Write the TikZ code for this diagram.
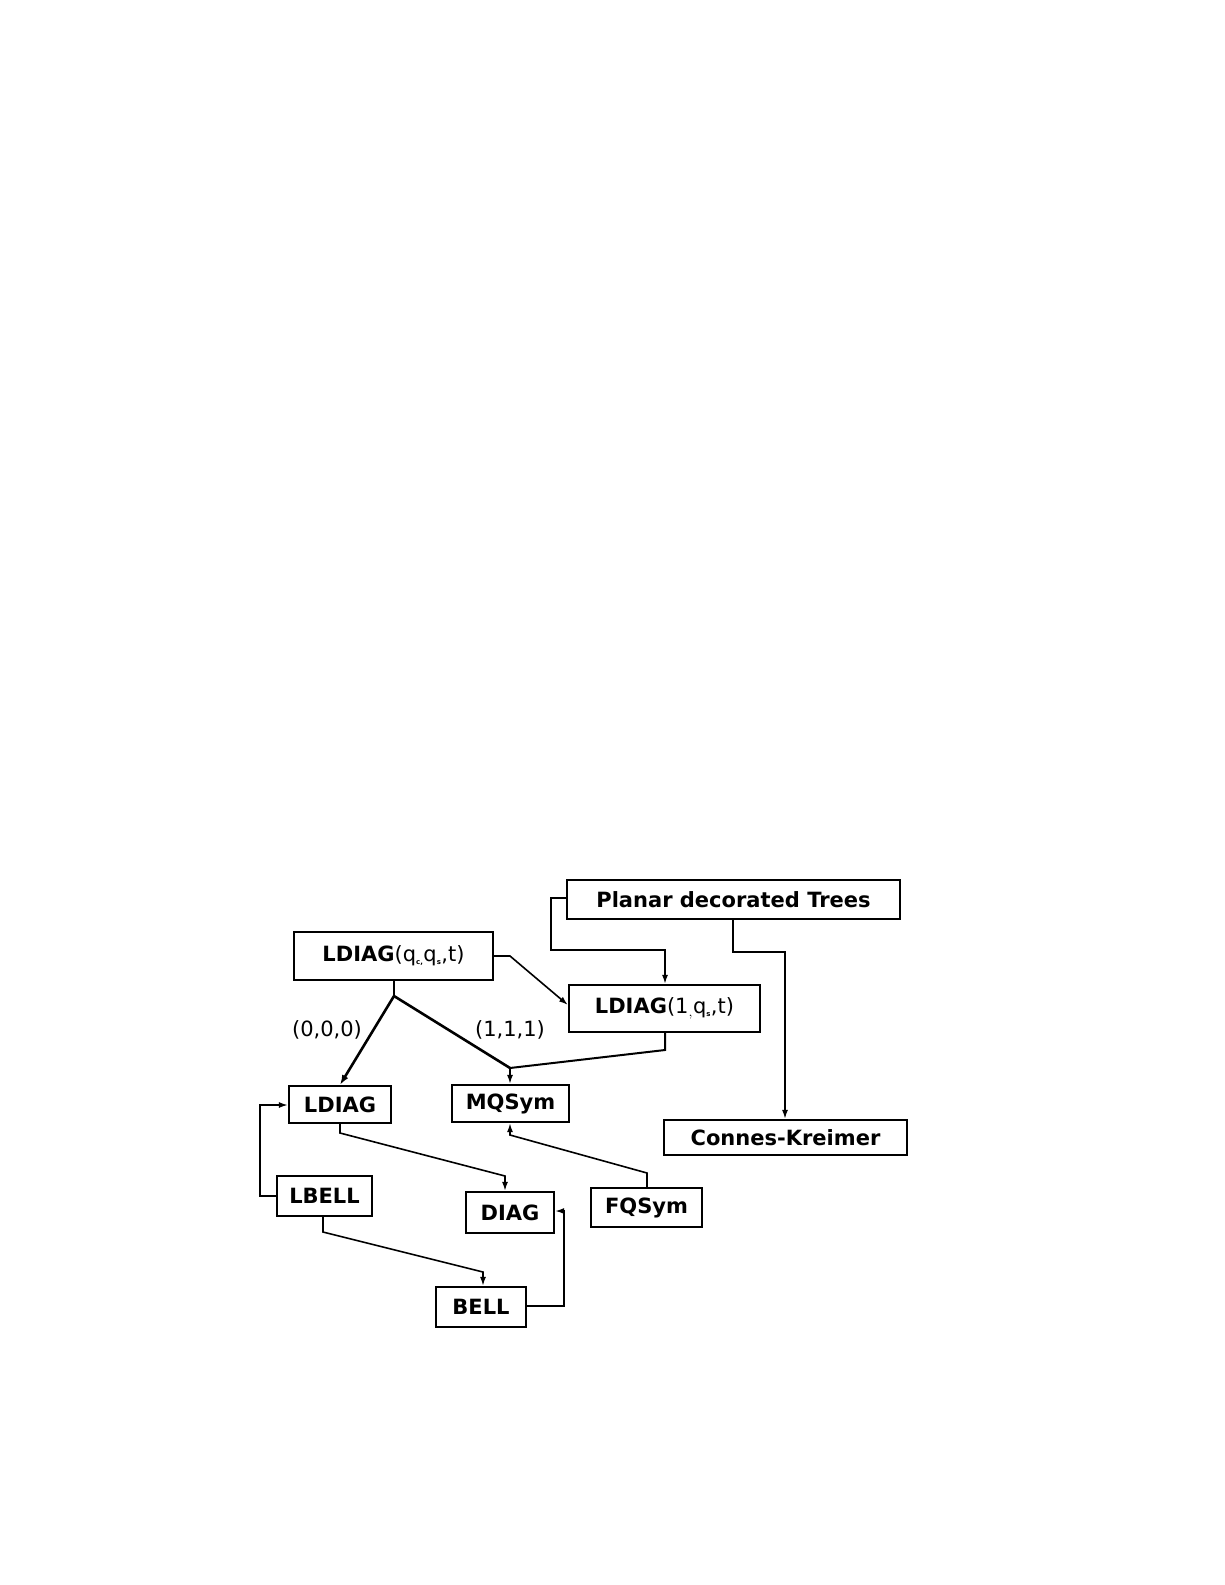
\documentclass[tikz,border=0pt]{standalone}
\usepackage{fontspec}
\setmainfont{DejaVu Sans}
\usetikzlibrary{arrows.meta}
\begin{document}
\begin{tikzpicture}[x=1pt,y=-1pt,
  bx/.style={draw,line width=2.2pt,inner sep=0pt,font=\fontsize{21}{24}\selectfont},
  ln/.style={line width=1.6pt,-{Latex[length=9pt,width=6pt]}},
  tk/.style={line width=2.6pt},
  lab/.style={font=\fontsize{21}{24}\selectfont}]
\fill[white] (0,0) rectangle (1225,1585);
\useasboundingbox (0,0) rectangle (1225,1585);
\node[bx,minimum width=333pt,minimum height=39pt] (pdt) at (733.5,899.5) {\textbf{Planar decorated Trees}};
\node[bx,minimum width=199pt,minimum height=48pt] (lq) at (393.5,956) {\textbf{LDIAG}(q$_{\textbf{\scriptsize c,}}$q$_{\textbf{\scriptsize s}}$,t)};
\node[bx,minimum width=191pt,minimum height=47pt] (l1) at (664.5,1008.5) {\textbf{LDIAG}(1$_{,}$q$_{\textbf{\scriptsize s}}$,t)};
\node[bx,minimum width=102pt,minimum height=37pt] (ld) at (340,1104.5) {\textbf{LDIAG}};
\node[bx,minimum width=117pt,minimum height=37pt] (mq) at (510.5,1103.5) {\textbf{MQSym}};
\node[bx,minimum width=243pt,minimum height=35pt] (ck) at (785.5,1137.5) {\textbf{Connes-Kreimer}};
\node[bx,minimum width=95pt,minimum height=40pt] (lb) at (324.5,1196) {\textbf{LBELL}};
\node[bx,minimum width=88pt,minimum height=41pt] (dg) at (510,1212.5) {\textbf{DIAG}};
\node[bx,minimum width=111pt,minimum height=39pt] (fq) at (646.5,1207.5) {\textbf{FQSym}};
\node[bx,minimum width=90pt,minimum height=40pt] (bl) at (481,1307) {\textbf{BELL}};
\node[lab] (l0) at (327,1030) {(0,0,0)};
\node[lab] (l111) at (510,1030) {(1,1,1)};
\coordinate (fork) at (394,996);
\coordinate (mqin) at (510,1068);
\draw[ln] (pdt.west|-0,898) -- (551,898) -- (551,950) -- (665,950) -- (l1.north-|665,0);
\draw[ln] (733,919) -- (733,952) -- (785,952) -- (ck.north-|785,0);
\draw[ln] (lq.east|-0,956) -- (510,956) -- (l1.west|-0,1005);
\draw[tk] (394,980) -- (fork);
\draw[tk,-{Latex[length=10pt,width=7pt]}] (fork) -- (ld.north-|340,0);
\draw[tk] (fork) -- (mqin);
\draw[line width=2pt] (665,1032) -- (665,1050) -- (mqin);
\draw[ln] (mqin) -- (mq.north-|510,0);
\draw[ln] (340,1123) -- (340,1133) -- (505,1176) -- (dg.north-|505,0);
\draw[ln] (lb.west|-0,1196) -- (260,1196) -- (260,1105) -- (ld.west|-0,1105);
\draw[ln] (323,1216) -- (323,1232) -- (483,1272) -- (bl.north-|483,0);
\draw[ln] (bl.east|-0,1306) -- (564,1306) -- (564,1211) -- (dg.east|-0,1211);
\draw[ln] (647,1188) -- (647,1173) -- (510,1135) -- (mq.south-|510,0);
\end{tikzpicture}
\end{document}
